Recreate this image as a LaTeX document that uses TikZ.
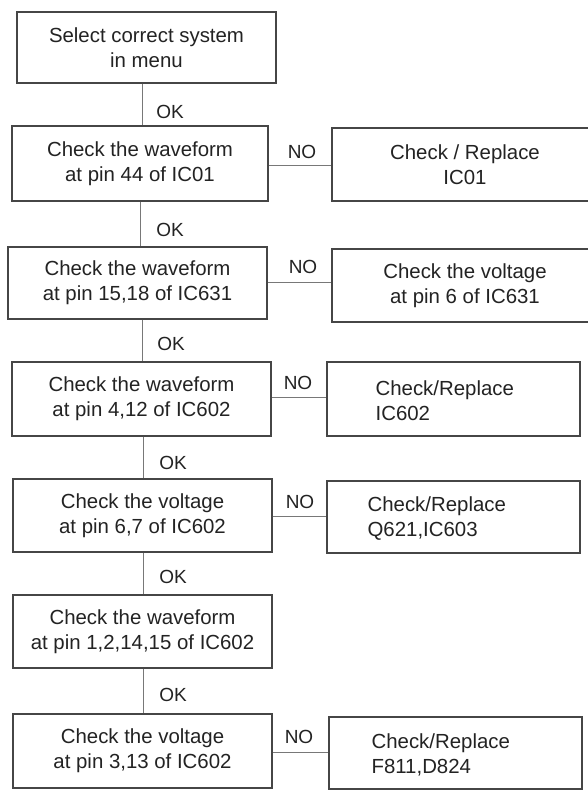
\documentclass[tikz,border=0pt]{standalone}
\usepackage{fontspec}
\setmainfont{Liberation Sans}
\definecolor{boxc}{RGB}{70,70,70}
\definecolor{linec}{RGB}{120,120,120}
\definecolor{txtc}{RGB}{35,35,35}
\begin{document}
\begin{tikzpicture}[x=1pt,y=-1pt,
  box/.style={draw=boxc, line width=1.2pt, rectangle, inner sep=0pt, align=center,
    text=txtc, font=\fontsize{20.4}{25}\selectfont},
  lefttext/.style={anchor=west, align=left, inner sep=0pt, text=txtc,
    font=\fontsize{20.4}{25}\selectfont},
  lbl/.style={inner sep=0pt, text=txtc, font=\fontsize{19}{22}\selectfont},
  conn/.style={draw=linec, line width=1pt}]
\useasboundingbox (0,0) rectangle (588,798);
\fill[white] (0,0) rectangle (588,798);

% main column
\node[box, minimum width=259pt, minimum height=71pt] (b1) at (146.5,47.5) {Select correct system\\in menu};
\node[box, minimum width=256pt, minimum height=75pt] (b2) at (140,163.5) {Check the waveform\\at pin 44 of IC01};
\node[box, minimum width=259pt, minimum height=72pt] (b3) at (137.5,283) {Check the waveform\\at pin 15,18 of IC631};
\node[box, minimum width=259pt, minimum height=74pt] (b4) at (141.5,399) {Check the waveform\\at pin 4,12 of IC602};
\node[box, minimum width=259pt, minimum height=73pt] (b5) at (142.5,515.5) {Check the voltage\\at pin 6,7 of IC602};
\node[box, minimum width=259pt, minimum height=73pt] (b6) at (142.5,631.5) {Check the waveform\\at pin 1,2,14,15 of IC602};
\node[box, minimum width=259pt, minimum height=74pt] (b7) at (142.5,751) {Check the voltage\\at pin 3,13 of IC602};

% right column
\node[box, minimum width=266pt, minimum height=73pt] (r2) at (465,164.5) {Check / Replace\\IC01};
\node[box, minimum width=266pt, minimum height=73pt] (r3) at (465,285.5) {Check the voltage\\at pin 6 of IC631};
\node[box, minimum width=253pt, minimum height=74pt] (r4) at (453.5,399) {};
\node[lefttext] (t4) at ([xshift=49pt,yshift=-2pt]r4.west) {Check/Replace\\IC602};
\node[box, minimum width=253pt, minimum height=72pt] (r5) at (453.5,517) {};
\node[lefttext] (t5) at ([xshift=41pt,yshift=-2pt]r5.west) {Check/Replace\\Q621,IC603};
\node[box, minimum width=253pt, minimum height=72pt] (r7) at (455.5,753) {};
\node[lefttext] (t7) at ([xshift=43pt,yshift=-2pt]r7.west) {Check/Replace\\F811,D824};

% vertical connectors
\draw[conn] (b1.south -| 142,0) -- (b2.north -| 142,0);
\draw[conn] (b2.south -| 140,0) -- (b3.north -| 140,0);
\draw[conn] (b3.south -| 142,0) -- (b4.north -| 142,0);
\draw[conn] (b4.south -| 143,0) -- (b5.north -| 143,0);
\draw[conn] (b5.south -| 143,0) -- (b6.north -| 143,0);
\draw[conn] (b6.south -| 143,0) -- (b7.north -| 143,0);

\node[lbl] (ok1) at (170,112) {OK};
\node[lbl] (ok2) at (170,230) {OK};
\node[lbl] (ok3) at (171,344) {OK};
\node[lbl] (ok4) at (173,463) {OK};
\node[lbl] (ok5) at (173,577) {OK};
\node[lbl] (ok6) at (173,695) {OK};

% horizontal connectors
\draw[conn] (b2.east |- 0,165) -- (r2.west |- 0,165);
\draw[conn] (b3.east |- 0,282) -- (r3.west |- 0,282);
\draw[conn] (b4.east |- 0,397) -- (r4.west |- 0,397);
\draw[conn] (b5.east |- 0,516) -- (r5.west |- 0,516);
\draw[conn] (b7.east |- 0,752) -- (r7.west |- 0,752);

\node[lbl] (no2) at (302,152) {NO};
\node[lbl] (no3) at (303,267) {NO};
\node[lbl] (no4) at (298,383) {NO};
\node[lbl] (no5) at (300,502) {NO};
\node[lbl] (no7) at (299,737) {NO};
\end{tikzpicture}
\end{document}
